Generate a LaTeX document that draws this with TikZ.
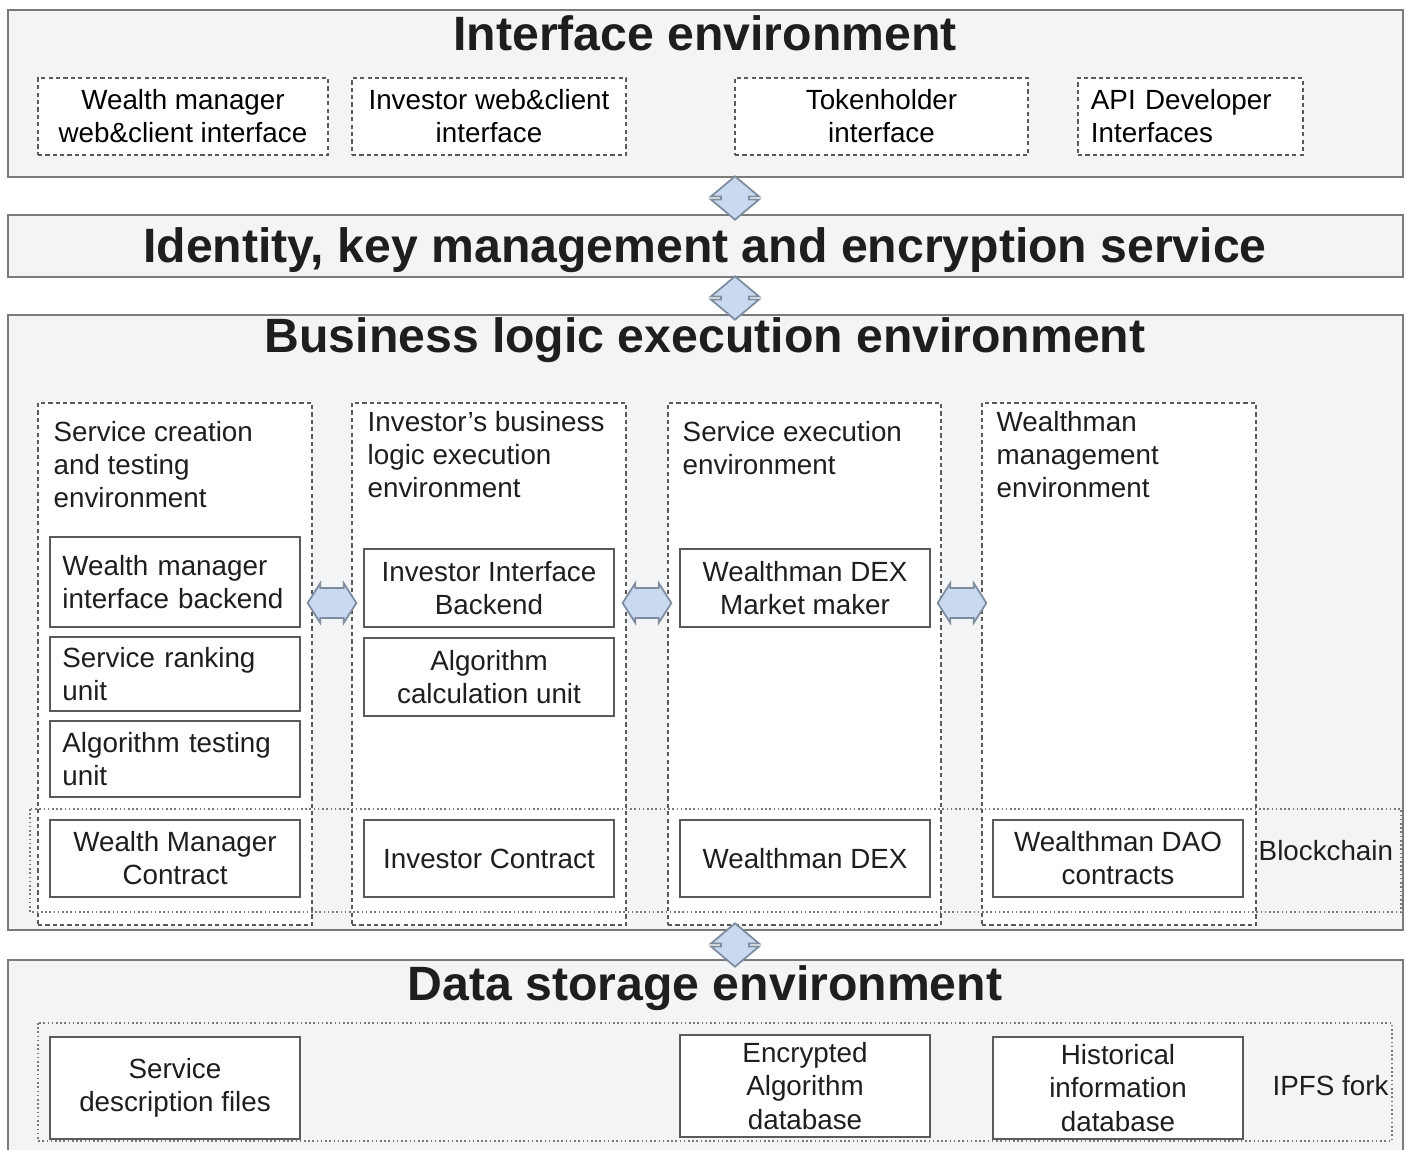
\documentclass[tikz,border=0pt]{standalone}
\usepackage{fontspec}
\setmainfont{Liberation Sans}
\usetikzlibrary{positioning,shapes,arrows,fit}

\definecolor{bggray}{HTML}{F3F4F6}
\definecolor{linegray}{HTML}{7A7A7A}
\definecolor{boxgray}{HTML}{5A5A5A}
\definecolor{arrfill}{HTML}{C9DAF0}
\definecolor{arrline}{HTML}{7E8CA0}
\definecolor{txt}{HTML}{1E1E1E}

\newcommand{\bodyfont}{\fontsize{7.9}{9.4}\selectfont}
\newcommand{\titlefont}{\fontsize{13.7}{16}\selectfont\bfseries}

\tikzset{
  env/.style={draw=linegray, fill=bggray, line width=0.6pt, minimum width=13.95cm, inner sep=0pt},
  title/.style={font=\titlefont, text=txt, inner sep=0pt},
  dashbox/.style={draw=boxgray, fill=white, line width=0.45pt, dash pattern=on 1.2pt off 0.9pt, inner sep=0pt},
  dotbox/.style={draw=linegray, line width=0.4pt, dash pattern=on 0.45pt off 0.75pt},
  unit/.style={draw=boxgray, fill=white, line width=0.7pt, minimum width=2.5cm, inner sep=0pt,
    font=\bodyfont, text=txt, align=center},
  unitl/.style={unit, text width=2.25cm, align=left},
  lbl/.style={font=\bodyfont, text=txt, inner sep=0pt, align=left},
  lr/.style={double arrow, draw=arrline, fill=arrfill, line width=0.5pt, minimum height=0.46cm,
    minimum width=0.38cm, double arrow tip angle=115, double arrow head extend=0.05cm, inner sep=0.14cm},
  ud/.style={double arrow, shape border rotate=90, draw=arrline, fill=arrfill, line width=0.5pt,
    minimum height=0.42cm, minimum width=0.48cm, double arrow tip angle=100,
    double arrow head extend=0.07cm, inner sep=0.09cm}
}

\begin{document}
\begin{tikzpicture}[x=0.01cm,y=-0.01cm]
\useasboundingbox (0,0) rectangle (1407,1149);
% Schichten
\node[env, minimum height=1.67cm] (ie) at (705.5,93.5) {};
\node[env, minimum height=0.62cm] (ik) at (705.5,246) {};
\node[env, minimum height=6.15cm] (be) at (705.5,622.5) {};
\node[env, minimum height=2cm] (ds) at (705.5,1060) {};
\node[title] (iet) at (705,33) {Interface environment};
\node[title] (ikt) at (705,250) {Identity, key management and encryption service};
\node[title] (bet) at (705,340) {Business logic execution environment};
\node[title] (dst) at (705,988) {Data storage environment};
% Interfaces
\node[dashbox, minimum width=2.9cm, minimum height=0.77cm, font=\bodyfont, align=center] (ifw) at (183,116.5) {Wealth manager\\web\&client interface};
\node[dashbox, minimum width=2.74cm, minimum height=0.77cm, font=\bodyfont, align=center] (ifi) at (489,116.5) {Investor web\&client\\interface};
\node[dashbox, minimum width=2.93cm, minimum height=0.77cm, font=\bodyfont, align=center] (ift) at (881.5,116.5) {Tokenholder\\interface};
\node[dashbox, minimum width=2.25cm, minimum height=0.77cm, font=\bodyfont, text width=1.99cm, align=left] (ifa) at (1190.5,116.5) {API Developer\\Interfaces};
% Spalten
\node[dashbox, minimum width=2.74cm, minimum height=5.22cm] (col1) at (175,664) {};
\node[dashbox, minimum width=2.74cm, minimum height=5.22cm] (col2) at (489,664) {};
\node[dashbox, minimum width=2.73cm, minimum height=5.22cm] (col3) at (804.5,664) {};
\node[dashbox, minimum width=2.74cm, minimum height=5.22cm] (col4) at (1119,664) {};
\node[lbl, anchor=north west] (h1) at (53,421) {Service creation\\and testing\\environment};
\node[lbl, anchor=north west] (h2) at (367,411) {Investor's business\\logic execution\\environment};
\node[lbl, anchor=north west] (h3) at (682,421) {Service execution\\environment};
\node[lbl, anchor=north west] (h4) at (996,411) {Wealthman\\management\\environment};
% Blockchain
\draw[dotbox] (30,809) rectangle (1401,912);
\node[lbl, anchor=west] (bc) at (1258,851) {Blockchain};
% Einheiten
\node[unitl, minimum height=0.9cm] (u11) at (175,582) {Wealth manager\\interface backend};
\node[unitl, minimum height=0.74cm] (u12) at (175,674) {Service ranking\\unit};
\node[unitl, minimum height=0.76cm] (u13) at (175,759) {Algorithm testing\\unit};
\node[unit, minimum height=0.77cm] (u14) at (175,858.5) {Wealth Manager\\Contract};
\node[unit, minimum height=0.78cm] (u21) at (489,588) {Investor Interface\\Backend};
\node[unit, minimum height=0.78cm] (u22) at (489,677) {Algorithm\\calculation unit};
\node[unit, minimum height=0.77cm] (u24) at (489,858.5) {Investor Contract};
\node[unit, minimum height=0.78cm] (u31) at (805,588) {Wealthman DEX\\Market maker};
\node[unit, minimum height=0.77cm] (u34) at (805,858.5) {Wealthman DEX};
\node[unit, minimum height=0.77cm] (u44) at (1118,858.5) {Wealthman DAO\\contracts};
% Speicher
\draw[dotbox] (38,1023) rectangle (1392,1141);
\node[unit, minimum height=1.02cm] (s1) at (175,1088) {Service\\description files};
\node[unit, minimum height=1.02cm] (s3) at (805,1086) {Encrypted\\Algorithm\\database};
\node[unit, minimum height=1.02cm] (s4) at (1118,1088) {Historical\\information\\database};
\node[lbl, anchor=west] (ipfs) at (1272,1086) {IPFS fork};
% Pfeile
\node[ud] (a1) at (735,198) {};
\node[ud] (a2) at (735,298) {};
\node[ud] (a3) at (735,945) {};
\node[lr] (b1) at (332,603) {};
\node[lr] (b2) at (647,603) {};
\node[lr] (b3) at (962,603) {};
\end{tikzpicture}
\end{document}
